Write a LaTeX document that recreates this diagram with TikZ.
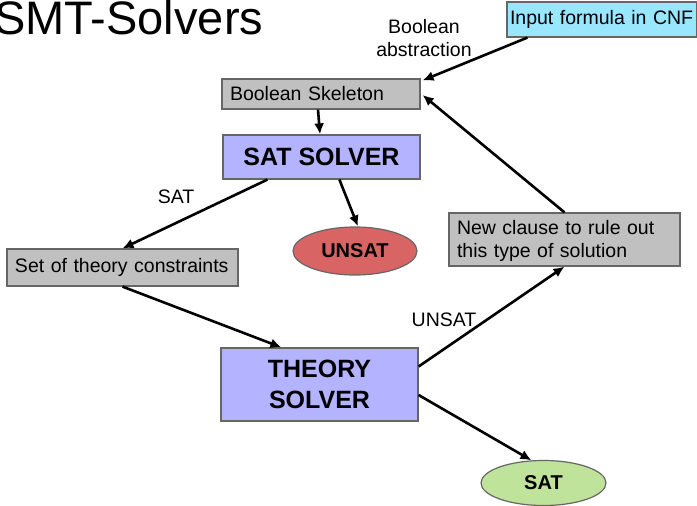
\documentclass[tikz,border=0pt]{standalone}
\usepackage{fontspec}
\setmainfont{Liberation Sans}
\usetikzlibrary{shapes.geometric,arrows.meta}
\definecolor{bordergray}{HTML}{666666}
\definecolor{boxgray}{HTML}{C0C0C0}
\definecolor{boxcyan}{HTML}{99E6FF}
\definecolor{boxblue}{HTML}{B3B3FF}
\definecolor{ovalred}{HTML}{D96464}
\definecolor{ovalgreen}{HTML}{C0E39B}
\tikzset{
  txt/.style={font=\fontsize{19.5}{23}\selectfont},
  plainbox/.style={draw=bordergray, line width=1.2pt, inner sep=0pt, txt},
  leftbox/.style={plainbox, align=left},
  solverbox/.style={plainbox, fill=boxblue, align=center, font=\fontsize{25}{31}\selectfont\bfseries},
  oval/.style={ellipse, draw=bordergray, line width=1.2pt, inner sep=0pt, font=\fontsize{20}{23}\selectfont\bfseries},
  arr/.style={line width=2.6pt, -{Latex[length=11pt,width=10pt]}},
  lbl/.style={txt, inner sep=0pt, align=center}
}
\begin{document}
\begin{tikzpicture}[x=1pt,y=-1pt]
\useasboundingbox (0,0) rectangle (697,506);
\fill[white] (0,0) rectangle (697,506);

\node[anchor=base west, inner sep=0pt, font=\fontsize{47}{50}\selectfont] (title) at (-6,34.5) {SMT-Solvers};

\node[leftbox, fill=boxcyan, minimum width=190pt, minimum height=35pt, text width=184pt] (input) at (602,19.5) {Input formula in CNF};
\node[leftbox, fill=boxgray, minimum width=198pt, minimum height=30pt, text width=182pt] (skel) at (321,94) {Boolean Skeleton};
\node[solverbox, minimum width=197pt, minimum height=44pt] (satsolver) at (321.5,157) {SAT SOLVER};
\node[oval, fill=ovalred, minimum width=124pt, minimum height=48pt] (unsat) at (355,251) {UNSAT};
\node[leftbox, fill=boxgray, minimum width=231pt, minimum height=37pt, text width=215pt] (theory) at (122.5,267.5) {Set of theory constraints};
\node[leftbox, fill=boxgray, minimum width=231pt, minimum height=53pt, text width=215pt] (newclause) at (564.5,239.5) {\strut New clause to rule out\\this type of solution};
\node[solverbox, minimum width=197pt, minimum height=73pt] (theorysolver) at (319.5,384.5) {THEORY\\SOLVER};
\node[oval, fill=ovalgreen, minimum width=125pt, minimum height=45pt] (sat) at (543.5,483) {SAT};

\node[lbl] (abstr) at (424,38) {Boolean\\abstraction};
\node[lbl] (satlbl) at (176,197) {SAT};
\node[lbl] (unsatlbl) at (444,320) {UNSAT};

\draw[arr] ([xshift=21pt]input.south west) -- ([shift={(2pt,-2pt)}]skel.north east);
\draw[arr] ([xshift=-3pt]skel.south) -- ([xshift=-1.5pt]satsolver.north);
\draw[arr] ([xshift=45pt]satsolver.south west) -- (theory.north);
\draw[arr] ([xshift=117pt]satsolver.south west) -- ([xshift=3pt]unsat.north);
\draw[arr] (theory.south) -- ([xshift=61pt]theorysolver.north west);
\draw[arr] ([yshift=18pt]theorysolver.east) -- (newclause.south);
\draw[arr] ([yshift=-10.5pt]theorysolver.east) -- (sat.118);
\draw[arr] (newclause.north) -- ([shift={(2pt,-1pt)}]skel.east);
\end{tikzpicture}
\end{document}
